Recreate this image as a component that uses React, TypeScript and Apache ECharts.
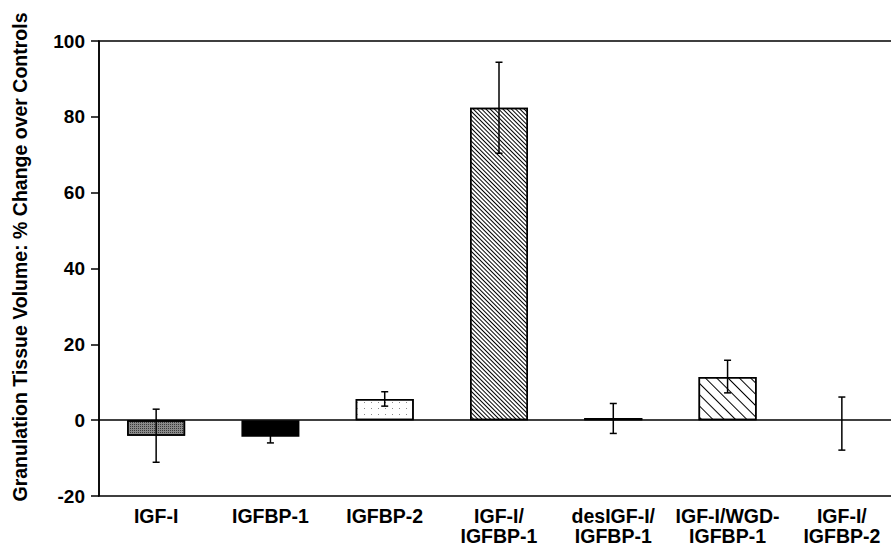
import React, { useEffect, useRef } from "react";
import * as echarts from "echarts";

const categories = [
  "IGF-I",
  "IGFBP-1",
  "IGFBP-2",
  "IGF-I/\nIGFBP-1",
  "desIGF-I/\nIGFBP-1",
  "IGF-I/WGD-\nIGFBP-1",
  "IGF-I/\nIGFBP-2",
];
const barValues: (number | null)[] = [-4.1, -4.4, 5.6, 82.4, 0.6, 11.4, null];
const errorCenters = [-4.1, -4.4, 5.6, 82.4, 0.45, 11.5, -0.9];
const errorHalf = [7, 1.6, 1.9, 12, 3.95, 4.3, 7];
const yTicks = [-20, 0, 20, 40, 60, 80, 100];
const yTitle = "Granulation Tissue Volume: % Change over Controls";

const FONT = "'Liberation Sans', Arial, Helvetica, sans-serif";

const styles: any[] = [
  {
    color: "#8a8a8a",
    decal: { symbol: "rect", symbolSize: 1, dashArrayX: [1, 1], dashArrayY: [1, 1], color: "#3a3a3a" },
  },
  { color: "#000000" },
  {
    color: "#ffffff",
    decal: { symbol: "rect", symbolSize: 1, dashArrayX: [1, 6], dashArrayY: [1, 5], color: "#8a8a8a" },
  },
  {
    color: "#ffffff",
    decal: { symbol: "rect", symbolSize: 1, dashArrayX: [1, 0], dashArrayY: [1, 2], rotation: Math.PI / 4, color: "#000000" },
  },
  {
    color: "#ffffff",
    decal: { symbol: "rect", symbolSize: 1, dashArrayX: [1, 2], dashArrayY: [1, 1], color: "#8a8a8a" },
  },
  {
    color: "#ffffff",
    decal: { symbol: "rect", symbolSize: 1, dashArrayX: [1, 0], dashArrayY: [1, 7], rotation: Math.PI / 4, color: "#000000" },
  },
  { color: "#ffffff" },
];

export default function App() {
  const ref = useRef<HTMLDivElement>(null);
  useEffect(() => {
    if (!ref.current) return;
    const chart = echarts.init(ref.current, undefined, { renderer: "svg" });
    const barData = barValues.map((v, i) =>
      v === null
        ? { value: "-" }
        : {
            value: v,
            itemStyle: { ...styles[i], borderColor: "#000", borderWidth: 1.5 },
          }
    );
    const errData = errorCenters.map((c, i) => [i, c - errorHalf[i], c + errorHalf[i]]);
    chart.setOption({
      animation: false,
      backgroundColor: "#ffffff",
      grid: {
        left: 99,
        width: 800,
        top: 41,
        height: 455,
        show: true,
        borderColor: "#000",
        borderWidth: 1.5,
        containLabel: false,
        outerBoundsMode: "none",
      },
      xAxis: {
        type: "category",
        data: categories,
        axisLine: { show: false, onZero: false },
        axisTick: { show: false },
        axisLabel: {
          interval: 0,
          color: "#000",
          fontFamily: FONT,
          fontWeight: "bold",
          fontSize: 19.5,
          lineHeight: 20,
          margin: 10,
        },
        splitLine: { show: false },
      },
      yAxis: {
        type: "value",
        min: -20,
        max: 100,
        interval: 20,
        axisLine: { show: true, lineStyle: { color: "#000", width: 1.5 } },
        axisTick: { show: true, length: 8, lineStyle: { color: "#000", width: 1.5 } },
        axisLabel: {
          color: "#000",
          fontFamily: FONT,
          fontWeight: "bold",
          fontSize: 19,
          margin: 14,
          formatter: (v: number) => (yTicks.includes(v) ? String(v) : ""),
        },
        splitLine: { show: false },
      },
      graphic: [
        {
          type: "text",
          x: 20,
          y: 257,
          rotation: Math.PI / 2,
          style: {
            text: yTitle,
            font: `bold 19.5px ${FONT}`,
            fill: "#000",
            align: "center",
            verticalAlign: "middle",
          },
        },
      ],
      series: [
        {
          type: "bar",
          data: barData,
          barWidth: 58,
          markLine: {
            silent: true,
            symbol: "none",
            label: { show: false },
            lineStyle: { color: "#000", width: 1.5, type: "solid" },
            data: [{ yAxis: 0 }],
          },
        },
        {
          type: "custom",
          data: errData,
          renderItem: (params: any, api: any) => {
            const x = api.value(0);
            const lo = api.coord([x, api.value(1)]);
            const hi = api.coord([x, api.value(2)]);
            const cap = 3.5;
            const st = { stroke: "#000", lineWidth: 1.5 };
            return {
              type: "group",
              children: [
                { type: "line", shape: { x1: lo[0], y1: lo[1], x2: hi[0], y2: hi[1] }, style: st },
                { type: "line", shape: { x1: lo[0] - cap, y1: lo[1], x2: lo[0] + cap, y2: lo[1] }, style: st },
                { type: "line", shape: { x1: hi[0] - cap, y1: hi[1], x2: hi[0] + cap, y2: hi[1] }, style: st },
              ],
            };
          },
          z: 5,
        },
      ],
    });
    return () => chart.dispose();
  }, []);
  return (
    <div
      ref={ref}
      style={{ position: "absolute", left: 0, top: 0, width: 891, height: 550 }}
    />
  );
}
